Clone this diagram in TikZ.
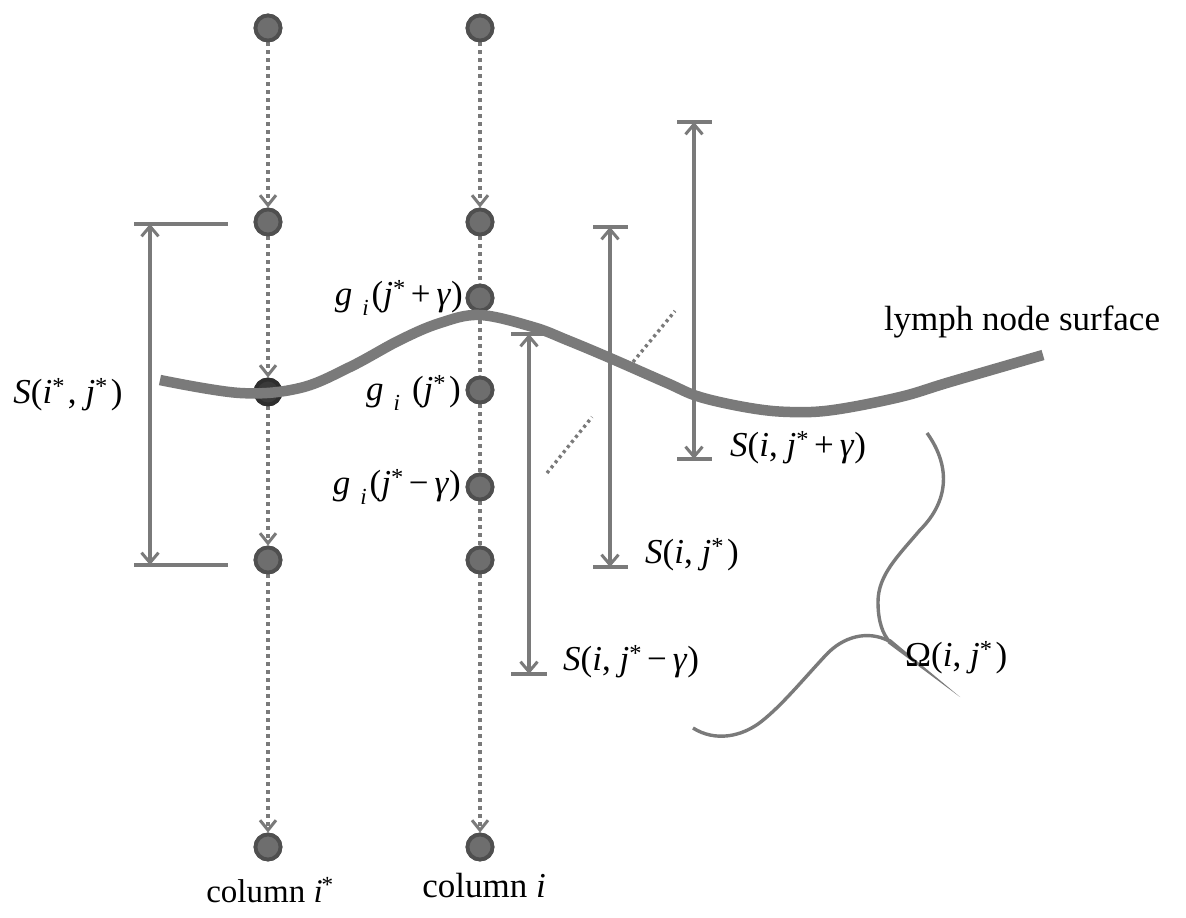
\documentclass[tikz,border=0pt]{standalone}
\usepackage{fontspec}
\setmainfont{Liberation Serif}
\usetikzlibrary{arrows.meta}
\definecolor{ln}{HTML}{7A7A7A}
\definecolor{nf}{HTML}{6E6E6E}
\definecolor{nd}{HTML}{4F4F4F}
\definecolor{ndark}{HTML}{3A3A3A}
\newcommand\st{\textsuperscript{*}\kern3pt}
\newcommand\subi{\raisebox{-10pt}{\fontsize{23}{23}\selectfont\textit{i}}}
\begin{document}
\begin{tikzpicture}[x=1pt,y=-1pt,
  font=\fontsize{35}{40}\selectfont,
  dotnode/.style={circle,fill=nf,draw=nd,line width=3.8pt,minimum size=25pt,inner sep=0pt},
  darknode/.style={dotnode,fill=ndark,draw=ndark!80!black},
  flow/.style={draw=ln,line width=4pt,dash pattern=on 4pt off 4pt},
  flowarrow/.style={flow,-{Straight Barb[length=10pt,width=16pt,line width=3pt]}},
  dim/.style={draw=ln,line width=3.6pt,{Straight Barb[length=10pt,width=17pt,line width=3pt]}-{Straight Barb[length=10pt,width=17pt,line width=3pt]}},
  tick/.style={draw=ln,line width=3.6pt},
  surface/.style={draw=ln,line width=10.5pt},
  thin/.style={draw=ln,line width=3.4pt},
  diag/.style={draw=ln,line width=3.4pt,dash pattern=on 3pt off 3.5pt},
  lbl/.style={inner sep=0pt,text=black},
  collbl/.style={lbl,font=\fontsize{33}{38}\selectfont}
]
\useasboundingbox (0,0) rectangle (1186,918);
\fill[white] (0,0) rectangle (1186,918);

% coordinates of columns
\coordinate (a1) at (268,28);
\coordinate (a2) at (268,222);
\coordinate (a3) at (268,392);
\coordinate (a4) at (268,560);
\coordinate (a5) at (268,847);
\coordinate (b1) at (480,28);
\coordinate (b2) at (480,222);
\coordinate (b3) at (480,298);
\coordinate (b4) at (480,390);
\coordinate (b5) at (480,487);
\coordinate (b6) at (480,560);
\coordinate (b7) at (480,847);

% nodes
\node[dotnode] (n1) at (a1) {};
\node[dotnode] (n2) at (a2) {};
\node[darknode] (n3) at (a3) {};
\node[dotnode] (n4) at (a4) {};
\node[dotnode] (n5) at (a5) {};
\node[dotnode] (m1) at (b1) {};
\node[dotnode] (m2) at (b2) {};
\node[dotnode] (m3) at (b3) {};
\node[dotnode] (m4) at (b4) {};
\node[dotnode] (m5) at (b5) {};
\node[dotnode] (m6) at (b6) {};
\node[dotnode] (m7) at (b7) {};

% dotted flows
\draw[flowarrow] (n1) -- (n2);
\draw[flowarrow] (n2) -- (n3);
\draw[flowarrow] (n3) -- (n4);
\draw[flowarrow] (n4) -- (n5);
\draw[flowarrow] (m1) -- (m2);
\draw[flow] (m2) -- (m3);
\draw[flow] (m3) -- (m4);
\draw[flow] (m4) -- (m5);
\draw[flow] (m5) -- (m6);
\draw[flowarrow] (m6) -- (m7);

% redraw nodes on top of flows
\node[dotnode] at (a1) {};
\node[dotnode] at (a2) {};
\node[darknode] at (a3) {};
\node[dotnode] at (a4) {};
\node[dotnode] at (a5) {};
\node[dotnode] at (b1) {};
\node[dotnode] at (b2) {};
\node[dotnode] at (b3) {};
\node[dotnode] at (b4) {};
\node[dotnode] at (b5) {};
\node[dotnode] at (b6) {};
\node[dotnode] at (b7) {};

% lymph node surface
\draw[surface] plot[smooth,tension=0.6] coordinates {(160,380) (240,393) (300,388) (350,367) (400,340) (440,323) (480,315) (533,327) (567,340) (610,358) (667,383) (700,397) (750,408) (790,412) (833,410) (900,397) (950,382) (1043,355)};

% dimension 1: S(i*,j*)
\coordinate (d1t) at (150,224);
\coordinate (d1b) at (150,565);
\coordinate (d1tl) at (134,224); \coordinate (d1tr) at (228,224);
\coordinate (d1bl) at (134,565); \coordinate (d1br) at (228,565);
\draw[tick] (d1tl) -- (d1tr);
\draw[tick] (d1bl) -- (d1br);
\draw[dim] (d1t) -- (d1b);

% dimension 2: S(i,j*-gamma)
\coordinate (d2t) at (529,334);
\coordinate (d2b) at (529,674);
\coordinate (d2tl) at (511,334); \coordinate (d2tr) at (547,334);
\coordinate (d2bl) at (511,674); \coordinate (d2br) at (547,674);
\draw[tick] (d2tl) -- (d2tr);
\draw[tick] (d2bl) -- (d2br);
\draw[dim] (d2t) -- (d2b);

% dimension 3: S(i,j*)
\coordinate (d3t) at (610,227);
\coordinate (d3b) at (610,567);
\coordinate (d3tl) at (593,227); \coordinate (d3tr) at (628,227);
\coordinate (d3bl) at (593,567); \coordinate (d3br) at (628,567);
\draw[tick] (d3tl) -- (d3tr);
\draw[tick] (d3bl) -- (d3br);
\draw[dim] (d3t) -- (d3b);

% dimension 4: S(i,j*+gamma)
\coordinate (d4t) at (694,122);
\coordinate (d4b) at (694,459);
\coordinate (d4tl) at (677,122); \coordinate (d4tr) at (712,122);
\coordinate (d4bl) at (677,459); \coordinate (d4br) at (712,459);
\draw[tick] (d4tl) -- (d4tr);
\draw[tick] (d4bl) -- (d4br);
\draw[dim] (d4t) -- (d4b);

% dotted diagonal
\coordinate (e1) at (547,473);
\coordinate (e2) at (592,417);
\coordinate (e3) at (633,362);
\coordinate (e4) at (675,311);
\draw[diag] (e1) -- (e2);
\draw[diag] (e3) -- (e4);

% Omega curves
\coordinate (o0) at (927,433);
\coordinate (oj) at (889,641);
\coordinate (oe) at (693,728);
\coordinate (otip) at (960,697);
\draw[thin] (o0) .. controls (950,465) and (950,500) .. (920,530)
  .. controls (898,556) and (878,575) .. (878,602)
  .. controls (878,622) and (883,634) .. (oj);
\draw[thin] (oj) .. controls (868,630) and (843,636) .. (825,656)
  .. controls (800,683) and (782,705) .. (762,721)
  .. controls (742,737) and (715,742) .. (oe);
\fill[ln] (887.5,643) -- (890.5,639) -- (otip) -- cycle;

% labels
\node[lbl] (l1) at (68,395) {\textit{S}(\textit{i}\st, \textit{j}\st)};
\node[lbl,anchor=east] (l2) at (463,298) {\textit{g}\kern10pt\subi\kern3pt(\textit{j}\st\kern2pt+\kern6pt\textit{γ})};
\node[lbl,anchor=east] (l3) at (461,393) {\textit{g}\kern10pt\subi\kern12pt(\textit{j}\st)};
\node[lbl,anchor=east] (l4) at (461,487) {\textit{g}\kern10pt\subi\kern3pt(\textit{j}\st\kern2pt−\kern6pt\textit{γ})};
\node[lbl,anchor=west] (l5) at (563,662) {\textit{S}(\textit{i}, \textit{j}\st\kern2pt−\kern6pt\textit{γ})};
\node[lbl,anchor=west] (l6) at (645,555) {\textit{S}(\textit{i}, \textit{j}\st)};
\node[lbl,anchor=west] (l7) at (730,448) {\textit{S}(\textit{i}, \textit{j}\st\kern2pt+\kern6pt\textit{γ})};
\node[lbl,anchor=west] (l8) at (905,658) {Ω(\textit{i}, \textit{j}\st)};
\node[lbl] (l9) at (1022,322) {lymph node surface};
\node[collbl,anchor=base] (l10) at (270,902) {column \textit{i}\kern-1pt\textsuperscript{*}};
\node[lbl,anchor=base] (l11) at (484,897) {column \textit{i}};
\end{tikzpicture}
\end{document}
